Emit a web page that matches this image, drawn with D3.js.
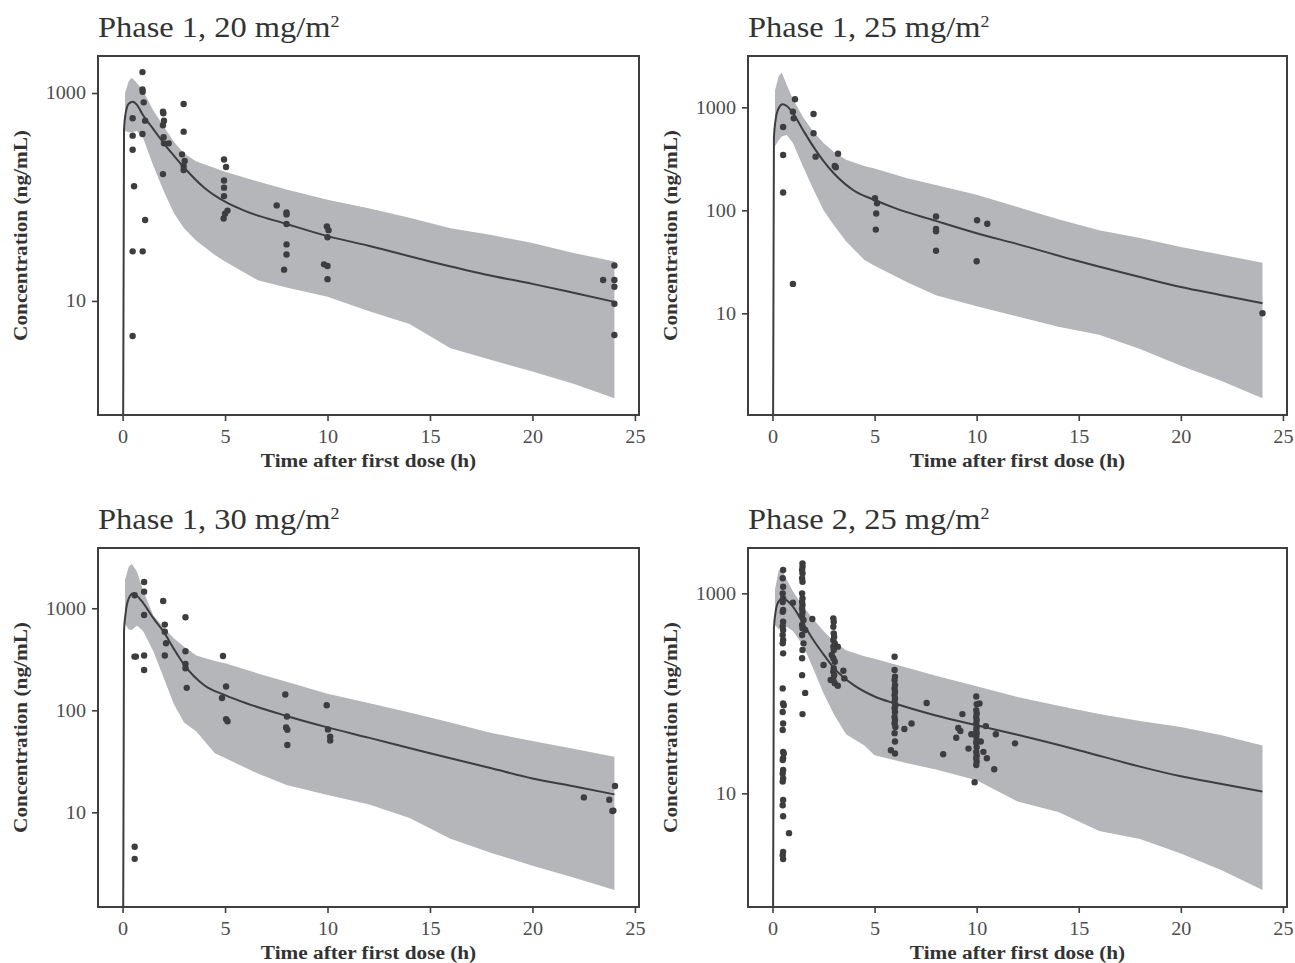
<!DOCTYPE html>
<html>
<head>
<meta charset="utf-8">
<script src="https://cdn.jsdelivr.net/npm/d3@7"></script>
<style>
  body { margin: 0; background: #fff; }
  text { font-family: "Liberation Serif", "Times New Roman", serif; }
</style>
</head>
<body>
<script>
// tick labels and titles
var xTicks = [0, 5, 10, 15, 20, 25];
var panelTitles = ["Phase 1, 20 mg/m", "Phase 1, 25 mg/m", "Phase 1, 30 mg/m", "Phase 2, 25 mg/m"];
var yTicks = [[10, 1000], [10, 100, 1000], [10, 100, 1000], [10, 1000]];
var yLimits = [[0.80, 2270], [1.03, 3150], [1.18, 3900], [0.73, 2840]];

// simulated median (line) time grid, and prediction band time grid
var predTime = [0, 0.07, 0.15, 0.3, 0.5, 0.7, 1, 1.5, 2, 2.5, 3, 4, 5, 6, 8, 10, 12, 15, 18, 20, 22, 24];
var bandTime = [0.12, 0.3, 0.45, 0.7, 1, 1.5, 2, 2.5, 3, 3.6, 4.5, 5, 6.6, 8, 10, 12, 14, 16, 18, 20, 22, 24];

// Phase 1, 20 mg/m2
var median20 = [0.01, 440, 640, 790, 825, 770, 610, 450, 330, 250, 192, 122, 90, 73, 55, 42, 34, 24, 17.5, 14.6, 12, 9.8];
var upper20 = [1000, 1300, 1400, 1250, 1050, 680, 480, 340, 262, 220, 190, 175, 141, 118, 94, 78, 63, 50, 43, 36, 29, 24];
var lower20 = [430, 420, 420, 430, 370, 200, 115, 70, 50, 38, 27.7, 24, 15.8, 13.5, 11, 8.0, 6.0, 3.5, 2.7, 2.1, 1.6, 1.16];
var obs20 = [
  [0.49, 571], [0.49, 389], [0.49, 285], [0.56, 127], [0.49, 30], [0.49, 4.6],
  [0.97, 1590], [0.97, 1085], [0.98, 1030], [1.03, 813], [1.1, 542], [0.97, 403], [1.1, 60], [0.98, 30],
  [1.97, 661], [1.99, 638], [2.02, 542], [1.97, 489], [2.0, 375], [2.02, 328], [2.25, 328], [1.97, 166],
  [2.98, 783], [2.98, 425], [2.9, 257], [3.03, 222], [2.98, 199], [2.98, 182],
  [4.95, 229], [5.05, 194], [4.95, 144], [4.95, 123], [4.95, 102], [5.12, 74], [5.0, 69], [4.93, 62],
  [7.52, 83], [8.0, 71], [8.0, 68], [8.0, 55], [8.0, 35], [8.0, 28], [7.88, 20],
  [9.97, 52], [10.05, 48], [10.0, 41], [9.83, 22.5], [10.0, 21.7], [10.0, 16.2],
  [23.45, 15.9], [24.0, 21.9], [24.0, 15.9], [24.0, 13.7], [24.0, 9.4], [24.0, 4.7]
];

// Phase 1, 25 mg/m2
var median25 = [0.01, 500, 750, 980, 1070, 1030, 880, 600, 415, 300, 229, 155, 126, 105, 79, 60, 47, 32, 22.5, 18, 15, 12.5];
var upper25 = [1450, 2000, 2175, 1650, 1200, 800, 580, 450, 370, 310, 270, 255, 205, 176, 142, 108, 82, 64, 54, 44, 37, 31];
var lower25 = [420, 480, 520, 540, 450, 265, 160, 100, 72, 50, 33, 29, 20, 15, 11.7, 9.3, 7.4, 6.2, 4.5, 3.1, 2.2, 1.5];
var obs25 = [
  [0.52, 644], [0.52, 344], [0.52, 149], [1.1, 1197], [1.0, 908], [1.04, 782], [1.0, 19.3],
  [2.01, 861], [2.01, 560], [2.11, 332], [3.21, 355], [3.05, 269], [3.1, 262],
  [5.02, 131], [5.12, 117], [5.08, 93], [5.06, 65],
  [8.01, 87], [8.01, 66], [8.01, 62.5], [8.01, 40.5],
  [10.02, 80], [10.52, 74], [10.0, 32], [24.0, 10]
];

// Phase 1, 30 mg/m2
var median30 = [0.01, 600, 900, 1250, 1400, 1330, 1130, 800, 590, 400, 280, 175, 141, 118, 88, 68, 54, 38, 27, 21.5, 18, 15];
var upper30 = [1900, 2550, 2720, 2300, 1500, 850, 650, 510, 420, 345, 305, 289, 230, 190, 145, 118, 95, 76, 60, 50, 42, 35];
var lower30 = [700, 620, 614, 680, 600, 380, 210, 115, 76, 62, 38, 34, 24, 18.5, 14.8, 12, 8.8, 5.5, 4.0, 3.0, 2.3, 1.73];
var obs30 = [
  [1.05, 1811], [1.05, 1456], [0.59, 1341], [1.98, 1180], [1.05, 860], [3.07, 817], [2.06, 692], [2.06, 590],
  [2.12, 454], [3.07, 379], [0.58, 336], [0.65, 336], [1.05, 344], [2.06, 344], [4.9, 341], [1.05, 248],
  [3.07, 284], [3.07, 258], [3.13, 166], [5.05, 171], [4.85, 132], [5.05, 82], [5.12, 78],
  [7.94, 143], [8.02, 87], [7.98, 68], [8.04, 64.5], [8.04, 45.7],
  [9.96, 112], [10.02, 65], [10.13, 55], [10.13, 50.5],
  [0.59, 4.6], [0.59, 3.5],
  [22.51, 14.0], [23.75, 13.3], [23.95, 10.4], [23.9, 10.3], [24.03, 18.1]
];

// Phase 2, 25 mg/m2
var medianP2 = [0.01, 450, 650, 830, 890, 850, 735, 500, 341, 245, 180, 120, 93, 79, 60, 48, 38.5, 27, 18.5, 14.8, 12.4, 10.4];
var upperP2 = [1080, 1700, 1750, 1360, 1050, 735, 550, 420, 330, 270, 235, 222, 180, 150, 118, 92, 75, 62, 53, 46, 38, 30];
var lowerP2 = [480, 440, 430, 464, 420, 300, 175, 100, 62, 39, 30, 24, 20, 17.3, 13.5, 8.3, 6.5, 4.2, 3.5, 2.5, 1.7, 1.08];
var obsP2 = [
  // 0.5 h
  [0.52, 1711], [0.5, 1413], [0.52, 1165], [0.5, 1000], [0.52, 891], [0.5, 820], [0.52, 681], [0.5, 655],
  [0.52, 520], [0.5, 470], [0.52, 430], [0.5, 383], [0.52, 341], [0.5, 316], [0.52, 251], [0.5, 112],
  [0.52, 79], [0.55, 76], [0.5, 65], [0.52, 50], [0.5, 43], [0.52, 26], [0.55, 25], [0.52, 22.4],
  [0.5, 21.5], [0.52, 17.1], [0.5, 15.8], [0.52, 14.1], [0.5, 13.1], [0.52, 8.6], [0.5, 7.6], [0.52, 5.9],
  [0.81, 4.0], [0.52, 2.6], [0.5, 2.4], [0.52, 2.2], [1.0, 807],
  // 1.5 h
  [1.47, 1995], [1.47, 1845], [1.45, 1711], [1.47, 1585], [1.45, 1413], [1.47, 1306], [1.45, 1000], [1.47, 891],
  [1.45, 824], [1.47, 764], [1.45, 708], [1.47, 655], [1.45, 607], [1.52, 541], [1.45, 482], [1.47, 447],
  [1.6, 430], [1.45, 383], [1.52, 316], [1.47, 271], [1.45, 224], [1.45, 152], [1.6, 101], [1.47, 62],
  [1.95, 553],
  // 3 h
  [2.98, 562], [3.0, 520], [2.98, 464], [3.0, 398], [3.02, 368], [2.98, 341], [3.05, 316], [3.2, 293],
  [2.98, 293], [3.0, 271], [2.9, 242], [2.98, 224], [3.05, 207], [2.5, 192], [3.0, 178], [2.98, 165],
  [3.47, 168], [3.02, 152], [3.52, 141], [2.85, 136], [3.05, 126], [3.2, 119], [2.98, 136],
  // 6 h
  [5.98, 232], [5.98, 171], [6.0, 147], [5.98, 136], [6.0, 121], [5.98, 112], [6.0, 104], [5.98, 96],
  [6.0, 89], [5.98, 82], [6.02, 76], [5.98, 71], [6.0, 65], [5.98, 58], [6.0, 54], [5.98, 50],
  [6.02, 46], [5.98, 40], [6.0, 33], [5.8, 27], [6.0, 25], [6.46, 44], [6.81, 50], [7.55, 80], [8.36, 24.6],
  // 10 h
  [9.98, 93], [10.14, 79], [10.0, 78], [9.98, 68], [10.0, 63], [9.98, 58], [10.0, 54], [9.98, 50],
  [10.0, 46], [9.98, 43], [10.0, 40], [9.98, 37], [10.0, 34], [9.98, 32], [10.0, 29], [9.98, 26],
  [10.0, 24], [9.98, 22.4], [10.0, 20.7], [9.98, 19.2], [9.9, 12.9],
  [9.3, 62], [9.1, 45], [9.2, 42], [9.0, 36], [9.74, 39], [9.6, 28], [10.45, 47], [10.94, 39],
  [10.2, 33], [10.33, 26], [10.5, 22.4], [10.86, 17.4], [11.88, 31.6]
];

var panels = [
  { title: panelTitles[0], obs: obs20, med: median20, up: upper20, lo: lower20 },
  { title: panelTitles[1], obs: obs25, med: median25, up: upper25, lo: lower25 },
  { title: panelTitles[2], obs: obs30, med: median30, up: upper30, lo: lower30 },
  { title: panelTitles[3], obs: obsP2, med: medianP2, up: upperP2, lo: lowerP2 }
];

// panel boxes
var boxes = [
  { left: 98, top: 56, w: 541, h: 359 },
  { left: 748, top: 56, w: 539, h: 359 },
  { left: 98, top: 548, w: 541, h: 359 },
  { left: 748, top: 548, w: 539, h: 359 }
];

var ink = "#3d3d3f";
var stretch = "scale(1.12,1)";

var svg = d3.select("body")
    .append("svg")
    .attr("width", 1295)
    .attr("height", 963);

panels.forEach(function(p, i) {
    var b = boxes[i];
    var g = svg.append("g")
        .attr("transform", "translate(" + b.left + "," + b.top + ")");

    var x = d3.scaleLinear().domain([-1.2, 25.2]).range([0, b.w]);
    var y = d3.scaleLog().domain(yLimits[i]).range([b.h, 0]);

    g.append("clipPath")
        .attr("id", "clip" + i)
        .append("rect")
        .attr("width", b.w)
        .attr("height", b.h);

    var plot = g.append("g").attr("clip-path", "url(#clip" + i + ")");

    // prediction band
    var area = d3.area()
        .x(function(d, j) { return x(bandTime[j]); })
        .y0(function(d) { return y(d[0]); })
        .y1(function(d) { return y(d[1]); });

    plot.append("path")
        .datum(d3.zip(p.lo, p.up))
        .attr("fill", "#b5b6ba")
        .attr("d", area);

    // observations
    plot.selectAll("circle")
        .data(p.obs)
        .enter()
        .append("circle")
        .attr("cx", function(d) { return x(d[0]); })
        .attr("cy", function(d) { return y(d[1]); })
        .attr("r", 3.2)
        .attr("fill", ink);

    // median
    var line = d3.line()
        .x(function(d, j) { return x(predTime[j]); })
        .y(function(d) { return y(d); })
        .curve(d3.curveMonotoneX);

    plot.append("path")
        .datum(p.med)
        .attr("fill", "none")
        .attr("stroke", ink)
        .attr("stroke-width", 2)
        .attr("d", line);

    // axes
    var xAxis = g.append("g")
        .attr("transform", "translate(0," + b.h + ")")
        .call(d3.axisBottom(x).tickValues(xTicks).tickSize(6).tickPadding(9));

    var yAxis = g.append("g")
        .call(d3.axisLeft(y).tickValues(yTicks[i]).tickFormat(d3.format("d")).tickSize(6).tickPadding(4.7));

    [xAxis, yAxis].forEach(function(a) {
        a.select(".domain").remove();
        a.selectAll("line").attr("stroke", "#3f3f3f").attr("stroke-width", 1.6);
        a.selectAll("text")
            .attr("fill", "#4d4d4d")
            .style("font-family", "'Liberation Serif', serif")
            .style("font-size", "18px")
            .attr("transform", stretch);
    });

    // border
    g.append("rect")
        .attr("width", b.w)
        .attr("height", b.h)
        .attr("fill", "none")
        .attr("stroke", "#3f3f3f")
        .attr("stroke-width", 2);

    // title
    var t = g.append("text")
        .attr("transform", "translate(0,-19) " + stretch)
        .attr("fill", "#333")
        .style("font-size", "29px")
        .text(p.title);
    t.append("tspan")
        .attr("dy", -10)
        .style("font-size", "16px")
        .text("2");

    // axis titles
    g.append("text")
        .attr("transform", "translate(" + b.w / 2 + "," + (b.h + 52) + ") " + stretch)
        .attr("text-anchor", "middle")
        .attr("fill", "#333")
        .attr("font-weight", "bold")
        .style("font-size", "19px")
        .text("Time after first dose (h)");

    g.append("text")
        .attr("transform", "translate(-71," + b.h / 2 + ") rotate(-90) " + stretch)
        .attr("text-anchor", "middle")
        .attr("fill", "#333")
        .attr("font-weight", "bold")
        .style("font-size", "19px")
        .text("Concentration (ng/mL)");
});
</script>
</body>
</html>
